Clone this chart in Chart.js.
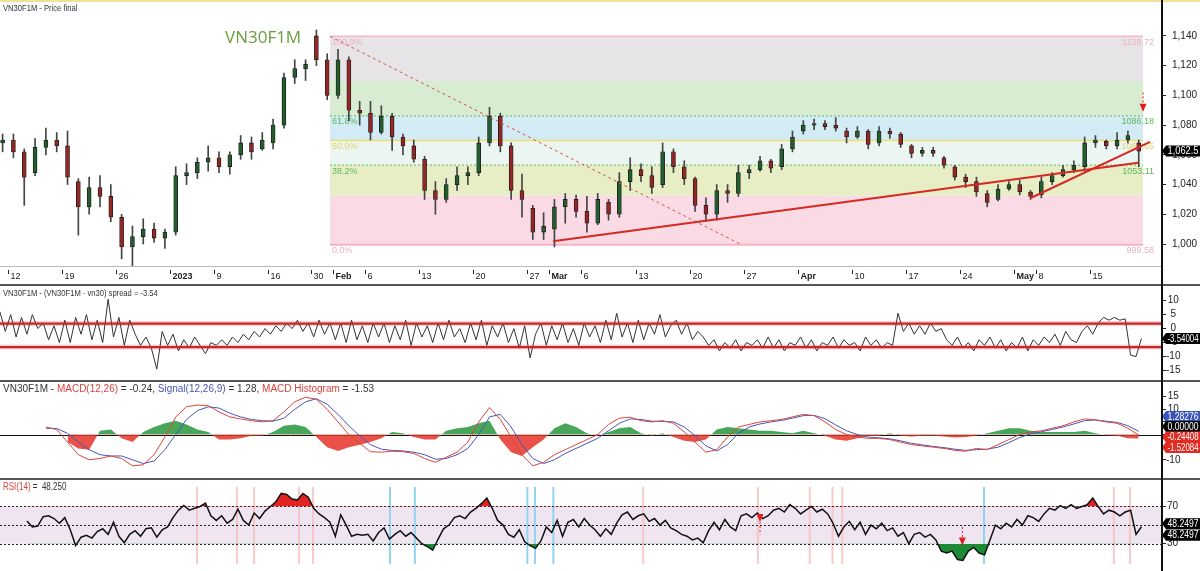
<!DOCTYPE html>
<html>
<head>
<meta charset="utf-8">
<title>VN30F1M</title>
<script src="https://cdn.jsdelivr.net/npm/chart.js@4.4.1/dist/chart.umd.min.js"></script>
<style>
  body { margin:0; background:#fff; }
  #wrap { position:relative; width:1200px; height:571px; overflow:hidden;
          font-family:Arial,"Liberation Sans",sans-serif; }
  canvas { position:absolute; left:0; }
  .sep { position:absolute; left:0; width:1200px; height:2px; background:#555; }
  .ttl { position:absolute; left:3px; font-size:9.5px; color:#333; white-space:nowrap;
         transform-origin:0 0; }
  .narrow { transform:scaleX(0.8); }
  #topLine { position:absolute; left:0; top:0; width:1200px; height:2px; background:#f2df9a; }
  #axisLine { position:absolute; left:1161px; top:0; width:1.5px; height:571px; background:#111; }
  #bigName { position:absolute; left:225px; top:25px; font-family:"Open Sans",Arial,sans-serif;
             font-size:17px; color:#6a9e3c; }
</style>
</head>
<body>
<div id="wrap">
  <canvas id="priceChart" width="1200" height="286" style="top:0"></canvas>
  <canvas id="spreadChart" width="1200" height="94" style="top:286px"></canvas>
  <canvas id="macdChart" width="1200" height="96" style="top:382px"></canvas>
  <canvas id="rsiChart" width="1200" height="91" style="top:480px"></canvas>
  <div id="topLine"></div>
  <div class="sep" style="top:284px"></div>
  <div class="sep" style="top:380px"></div>
  <div class="sep" style="top:478px"></div>
  <div id="axisLine"></div>
  <div class="ttl narrow" style="top:2px">VN30F1M - Price final</div>
  <div id="bigName">VN30F1M</div>
  <div class="ttl narrow" style="top:287px">VN30F1M - (VN30F1M - vn30) spread = -3.54</div>
  <div class="ttl" style="top:383px;font-size:10px">VN30F1M - <span style="color:#d9453c">MACD(12,26)</span> = -0.24, <span style="color:#4a55b5">Signal(12,26,9)</span> = 1.28, <span style="color:#d9453c">MACD Histogram</span> = -1.53</div>
  <div class="ttl narrow" style="top:481px;font-size:10px"><span style="color:#d9453c">RSI(14)</span> =&nbsp; 48.250</div>
</div>
<script>
// ---- data: one candle per trading day, Dec 9 2022 .. May 19 2023 ----
var open = [1068,1070,1062,1048,1065,1070,1066,1042,1025,1038,
  1032,1018,998,1005,1010,1004,1008,1046,1048,1055,
  1058,1052,1060,1068,1064,1068,1080,1112,1118,1140,
  1124,1100,1124,1090,1088,1075,1086,1072,1066,1057,
  1036,1030,1040,1046,1048,1068,1086,1066,1036,1024,
  1008,1010,1025,1030,1022,1014,1028,1020,1042,1050,
  1046,1040,1062,1052,1044,1026,1020,1036,1034,1048,
  1050,1056,1052,1064,1076,1080,1081,1080,1076,1072,
  1076,1068,1076,1074,1066,1061,1063,1058,1052,1045,
  1042,1034,1030,1037,1040,1035,1033,1042,1046,1050,
  1052,1068,1069,1066,1070,1068];
var high = [1074,1074,1064,1071,1078,1075,1076,1044,1045,1046,
  1040,1020,1012,1017,1014,1010,1052,1054,1058,1066,
  1062,1062,1073,1072,1075,1084,1115,1124,1124,1144,
  1128,1131,1126,1096,1096,1093,1088,1074,1070,1059,
  1042,1044,1052,1052,1072,1092,1088,1068,1047,1026,
  1021,1030,1034,1033,1032,1034,1030,1048,1058,1054,
  1052,1068,1064,1056,1045,1031,1040,1040,1053,1053,
  1059,1057,1067,1076,1083,1084,1083,1085,1078,1079,
  1077,1079,1078,1075,1067,1065,1065,1059,1053,1047,
  1045,1036,1040,1042,1043,1036,1045,1048,1053,1056,
  1072,1073,1070,1075,1076,1070];
var low = [1062,1058,1026,1046,1060,1062,1040,1006,1020,1025,
  1015,990,985,1000,1001,997,1006,1040,1044,1049,
  1048,1047,1057,1057,1063,1064,1078,1108,1110,1120,
  1097,1098,1083,1080,1070,1074,1063,1060,1055,1030,
  1020,1028,1036,1040,1046,1066,1062,1030,1018,1003,
  1003,998,1014,1018,1008,1013,1016,1018,1036,1042,
  1034,1038,1048,1040,1022,1015,1016,1028,1032,1044,
  1049,1048,1050,1062,1074,1077,1077,1076,1068,1071,
  1064,1066,1071,1065,1058,1059,1059,1051,1043,1038,
  1032,1025,1029,1036,1033,1030,1031,1040,1045,1048,
  1049,1065,1064,1064,1068,1052];
var close = [1070,1062,1045,1065,1070,1066,1045,1025,1038,1032,
  1018,998,1005,1010,1004,1008,1046,1048,1055,1058,
  1052,1060,1068,1062,1070,1080,1112,1118,1121,1124,
  1100,1124,1090,1088,1075,1086,1072,1066,1057,1036,
  1030,1040,1046,1048,1068,1086,1066,1036,1030,1008,
  1012,1025,1030,1022,1014,1030,1020,1042,1050,1046,
  1038,1062,1052,1044,1026,1020,1036,1034,1048,1050,
  1056,1051,1064,1072,1080,1081,1079,1078,1072,1076,
  1067,1076,1074,1067,1061,1063,1061,1053,1045,1042,
  1035,1028,1037,1040,1035,1032,1042,1046,1050,1053,
  1068,1070,1066,1070,1073,1062.5];

// x-axis tick labels (day index where the label starts)
var tickDays = [1,6,11,16,20,25,29,31,34,39,44,49,51,54,59,64,69,74,79,84,89,94,96,101];
var tickLabels = ['12','19','26','2023','9','16','30','Feb','6','13','20','27','Mar','6','13','20','27','Apr','10','17','24','May','8','15'];

var priceTicks = [1000,1020,1040,1060,1080,1100,1120,1140];
var spreadTicks = [10,5,0,-5,-10,-15];
var macdTicks = [15,10,5,0,-5,-10];
var rsiTicks = [70,30];

// fibonacci retracement
var fibLevels = [999.58,1032.65,1053.11,1069.65,1086.18,1109.72,1139.72];
var fibNames = ['0.0%','23.6%','38.2%','50.0%','61.8%','78.6%','100.0%'];
var fibFrom = 30.26, fibTo = 105.4;

// trend lines [x, price]
var trendA = [[50.87,1001.9],[104.94,1054.6]];
var trendB = [[94.96,1030.8],[106.05,1068.7]];
var fibDiag = [[30.26,1139.72],[68.15,1000]];
var priceArrow = {x:105.4, top:1102, bottom:1089};

// spread, two values per day
var spread = [6,-1,5,-3, 4,-2,5,0, 2,-4,1,-5, 3,-5,4,-2, 5,-4,3,-5,
  10.5, -3,4,-6,3, -2,-6,-3,-7, -14.5,
  -1,-6,-2,-8, -4,-7,-3,-6, -9,-5,-6,-4, -6,-3,-5,-2, -4,-1,-3,0,
  -2,1,-1,2, 0,3,-1,2, -3,3,-2,2, -4,2,-5,3, -4,1,-5,2,
  -3,2,-5,1, -4,3,-6,2, -3,1,-5,2, -4,3,-3,0, -5,2,-4,3,
  -6,1,-3,2, -5,0,-7,1, -10.5,-2,2,-6, 1,-4,2,-5, 0,-6,2,-3,
  1,-5,3,-4, 5.5,-3,2,-5, 3,-4,2,-2, 5,-3,1,3, -2,2,-4,-1,
  -3,-6,-4,-8, -5,-7,-4,-8, -5,-6,-4,-7, -3,-7,-4,-8, -5,-6,-3,-7,
  -4,-8,-5,-6, -3,-7,-4,-6, -5,-8,-3,-6, -4,-7,-5,-6,
  5.5, -1,2,-2,1, -2,2,-1,0, -4,-6,-3,-7, -5,-8,-4,-6, -3,-7,-4,-8,
  -5,-7,-3,-8, -4,-6,-3,-5, -2,-6,-1,-4, -5,-1,1,-2, 2,4,3,4,
  3,3.5, -9.5,-10,-3.54];
var spreadBands = [1.8,-6.6];

// MACD, one value per day
var macd = [null,null,null,null,3,2,-3,-8,-10,-9.5,
  -8.5,-9.5,-12.4,-12,-8,-1,7,11,11.7,11.5,
  9,7,6.2,5.5,5,5.5,9,13,14.8,14,
  10,5,0,-3.5,-6.8,-7,-6.6,-6.8,-7.5,-9.5,
  -11,-9,-7,-3,5,10.7,6,-1,-8,-12.4,
  -11,-8,-6,-4,-2,0,4,6.5,6.9,5.5,
  5,5.5,4.5,1,-3,-7,-6,-1,3,4,
  5,5.5,6,7,8,7.5,5,2,0,-1,
  -1.5,-1.5,-2,-3,-4,-4.5,-5,-5.5,-6.3,-6.6,
  -5.5,-6,-4,-2,0,1,1.5,2.5,3.5,5,
  6.2,5.8,5,4.5,2.5,-0.24];
var signal = [null,null,null,null,2.5,2.4,0.5,-3,-6,-8,
  -8.5,-8.5,-10,-11.5,-10.5,-6,0,6,9.5,11,
  10.5,8.5,7,6,5.5,5.3,6.5,10,13,14.2,
  12,8,3.5,-0.5,-4,-5.8,-6.3,-6.5,-7,-8,
  -9.8,-9.5,-8,-5.5,0,7,8,3,-4,-9.5,
  -11.5,-10,-7.5,-5.5,-3.5,-1.5,1.5,4.5,6.2,6,
  5.3,5.2,5,3,-0.5,-4.5,-6.5,-4,0.5,3,
  4.2,5,5.6,6.5,7.5,7.6,6.3,3.8,1.5,0,
  -1,-1.3,-1.7,-2.5,-3.5,-4.1,-4.7,-5.2,-5.8,-6.3,
  -6,-5.8,-5,-3.2,-1.2,0.3,1.1,2,3,4.2,
  5.5,5.8,5.3,4.8,3.5,1.28];
var hist = [null,null,null,null,null,null,-3,-5.5,-6,1.5,
  2,-1.5,-3,1,3,4.5,5.5,4,2,1,
  -2,-2,-1.5,-0.5,-0.5,1,3.5,4,3,-1,
  -5,-6.5,-5,-4,-3,-1.5,1,0.5,-1,-2,
  -2,1.5,2.5,3,4.5,5.5,-2,-7,-8.5,-5,
  -2,2.5,4.5,3,0.5,-0.5,1,2.5,3,0.5,
  -0.5,0.5,-1,-2.5,-3,-2,2,3,2.5,2,
  1.5,1.5,1,0.5,1.5,0.5,-0.5,-2,-2.5,-1.5,
  -0.5,-0.5,0.5,-0.5,-0.8,-0.5,-0.5,-0.8,-1.2,-1,
  -0.5,0.5,1.5,2.5,2.5,1.5,1,1,1,1,
  1.5,0.5,-0.3,-0.5,-1.5,-1.53];

// RSI(14), two values per day
var rsi = [null,null,null,null,null,54.5,48,49,59,60,
  57,52,58,45,28,37,39,36,43,46,
  40,53,38,31,40,44,38,46,47,37,
  45,48,58,66,71,66,68,70,73.5,60,
  55,60,52,56,67,55,50,63,57,65,
  70,75,84,83,78,77,84,80,68,62,
  58,53,38,61,50,38,40,39,40,33,
  42,47,35,40,44,38,42,36,30,27,
  23,35,46,50,58,60,57,64,68,73,
  79,68,55,50,40,37,45,32,28,25,
  33,48,42,55,38,53,56,48,57,50,
  45,38,46,40,52,61,64,56,60,62,
  54,57,50,55,47,44,40,38,34,36,
  31,44,53,45,56,48,44,60,62,58,
  63,57,60,66,68,64,72,68,62,66,
  70,64,67,62,52,38,48,54,45,53,
  40,50,46,52,44,47,38,42,30,40,
  42,37,40,34,22,20,22,13,12,22,
  26,20,18,34,50,46,52,48,56,50,
  60,58,54,62,68,66,71,68,72,68,
  70,72,79,70,62,66,64,60,64,66,
  40,48.25];
var rsiPinkX = [17.97,21.66,23.24,27.4,28.69,59.2,69.8,74.6,76.7,77.6,102.7,104.2];
var rsiBlueX = [35.8,38.1,48.5,49.2,50.9,90.7];
var rsiMarks = [{x:70.0, top:62, bottom:40, head:'top'}, {x:88.7, top:48, bottom:28, head:'bottom'}];

// ---- drawing ----
var FONT = 'Arial,"Liberation Sans",sans-serif';
Chart.defaults.font.family = FONT;
Chart.defaults.font.size = 10;
Chart.defaults.color = '#222';

var X_MIN = -0.24, X_MAX = 107.15;

function pts(arr) { return arr.map(function (p) { return {x: p[0], y: p[1]}; }); }
function daily(arr) { return arr.map(function (v, k) { return {x: k, y: v}; }); }
function halfDay(arr) { return arr.map(function (v, j) { return {x: j / 2 - 0.25, y: v}; }); }
function flat(y) { return [{x: X_MIN, y: y}, {x: X_MAX, y: y}]; }

function opts(yMin, yMax, ticks, pad, align) {
  return {
    responsive: false, animation: false, devicePixelRatio: 1, events: [],
    layout: {padding: 0},
    plugins: {legend: {display: false}, tooltip: {enabled: false}},
    scales: {
      x: {type: 'linear', min: X_MIN, max: X_MAX, display: false, offset: false},
      y: {
        position: 'right', min: yMin, max: yMax,
        afterFit: function (s) { s.width = 38; },
        afterBuildTicks: function (s) { s.ticks = ticks.map(function (v) { return {value: v}; }); },
        grid: {drawOnChartArea: false, drawTicks: true, tickLength: 4, color: '#222'},
        border: {display: true, color: '#111', width: 1.5},
        ticks: {color: '#222', font: {size: 10}, padding: pad, crossAlign: align,
                callback: function (v) { return v.toLocaleString('en-US'); }}
      }
    }
  };
}

// condensed text: squeeze horizontally when wider than the room
function squeezeText(ctx, text, cx, cy, room) {
  var w = ctx.measureText(text).width;
  var k = w > room ? room / w : 1;
  ctx.save();
  ctx.translate(cx, cy);
  ctx.scale(k, 1);
  ctx.fillText(text, 0, 0);
  ctx.restore();
}

function drawTag(ctx, y, text, bg) {
  var x0 = 1162, w = 38, h = 11;
  ctx.save();
  ctx.fillStyle = bg;
  ctx.beginPath();
  ctx.moveTo(x0, y);
  ctx.lineTo(x0 + 4, y - h / 2);
  ctx.lineTo(x0 + w, y - h / 2);
  ctx.lineTo(x0 + w, y + h / 2);
  ctx.lineTo(x0 + 4, y + h / 2);
  ctx.closePath();
  ctx.fill();
  ctx.fillStyle = '#fff';
  ctx.font = '10px ' + FONT;
  ctx.textAlign = 'center';
  ctx.textBaseline = 'middle';
  squeezeText(ctx, text, x0 + 4 + (w - 4) / 2, y + 0.5, w - 7);
  ctx.restore();
}

function drawArrow(ctx, px, yTop, yBot, head) {
  ctx.save();
  ctx.strokeStyle = '#e02020';
  ctx.fillStyle = '#e02020';
  ctx.lineWidth = 1;
  ctx.setLineDash([2, 2]);
  ctx.beginPath(); ctx.moveTo(px, yTop); ctx.lineTo(px, yBot); ctx.stroke();
  ctx.setLineDash([]);
  var hy = head === 'top' ? yTop + 8 : yBot;
  ctx.beginPath();
  ctx.moveTo(px - 3.5, hy - 8); ctx.lineTo(px + 3.5, hy - 8); ctx.lineTo(px, hy);
  ctx.closePath(); ctx.fill();
  ctx.restore();
}

// PRICE
var bandColors = ['#fadbe5','#e7eec6','#ebf5f1','#d3ebf4','#d7ecd0','#e6e4e7'];
var fibStyle = {
  0: {color: '#f4b3c6', width: 2, dash: [], text: '#e8b4c4'},
  2: {color: '#5cb85c', width: 1, dash: [2, 2], text: '#5cb85c'},
  3: {color: '#eee070', width: 1.5, dash: [], text: '#e2d465'},
  4: {color: '#5cb85c', width: 1, dash: [2, 2], text: '#5cb85c'},
  6: {color: '#f4b8c8', width: 1.5, dash: [], text: '#f0b0c4'}
};

var fibPlugin = {
  id: 'fib',
  beforeDatasetsDraw: function (chart) {
    var ctx = chart.ctx, sx = chart.scales.x, sy = chart.scales.y;
    var x1 = sx.getPixelForValue(fibFrom), x2 = sx.getPixelForValue(fibTo);
    ctx.save();
    for (var i = 0; i < fibLevels.length - 1; i++) {
      var ya = sy.getPixelForValue(fibLevels[i]), yb = sy.getPixelForValue(fibLevels[i + 1]);
      ctx.fillStyle = bandColors[i];
      ctx.fillRect(x1, yb, x2 - x1, ya - yb);
    }
    ctx.font = '9px ' + FONT;
    ctx.textBaseline = 'middle';
    Object.keys(fibStyle).forEach(function (k) {
      var st = fibStyle[k], y = sy.getPixelForValue(fibLevels[k]);
      ctx.strokeStyle = st.color; ctx.lineWidth = st.width; ctx.setLineDash(st.dash);
      ctx.beginPath(); ctx.moveTo(x1, y); ctx.lineTo(x2, y); ctx.stroke();
      ctx.fillStyle = st.text;
      ctx.textAlign = 'left';
      ctx.fillText(fibNames[k], x1 + 2, y + 6);
      ctx.textAlign = 'right';
      ctx.fillText(fibLevels[k].toFixed(2), x2 + 11, y + 6);
    });
    ctx.restore();
  },
  afterDraw: function (chart) {
    var ctx = chart.ctx, sx = chart.scales.x, sy = chart.scales.y;
    ctx.save();
    ctx.strokeStyle = '#bbb'; ctx.lineWidth = 1;
    ctx.beginPath(); ctx.moveTo(0, 266.5); ctx.lineTo(1162, 266.5); ctx.stroke();
    ctx.strokeStyle = '#222'; ctx.fillStyle = '#222';
    ctx.textBaseline = 'middle'; ctx.textAlign = 'left';
    tickDays.forEach(function (d, i) {
      var px = Math.round(sx.getPixelForValue(d - 0.5)) + 0.5;
      ctx.beginPath(); ctx.moveTo(px, 270); ctx.lineTo(px, 274); ctx.stroke();
      var lab = tickLabels[i];
      var bold = isNaN(+lab) || lab.length === 4;
      ctx.font = (bold ? 'bold ' : '') + '9px ' + FONT;
      ctx.fillText(lab, px + 2, 277);
    });
    ctx.restore();
    drawArrow(ctx, sx.getPixelForValue(priceArrow.x), sy.getPixelForValue(priceArrow.top),
              sy.getPixelForValue(priceArrow.bottom), 'bottom');
    drawTag(ctx, sy.getPixelForValue(close[close.length - 1]), '1,062.5', '#000');
  }
};

var bodyColors = open.map(function (o, k) { return close[k] >= o ? '#225e2b' : '#952626'; });
var pOpts = opts(985.2, 1156.1, priceTicks, 6, 'near');
pOpts.layout.padding = {bottom: 20};

new Chart('priceChart', {
  type: 'bar',
  data: {
    datasets: [
      {type: 'line', data: pts(trendA), borderColor: '#d42a22', borderWidth: 2, pointRadius: 0, order: 1},
      {type: 'line', data: pts(trendB), borderColor: '#d42a22', borderWidth: 2, pointRadius: 0, order: 1},
      {type: 'line', data: pts(fibDiag), borderColor: '#d9534f', borderWidth: 1, borderDash: [3, 3], pointRadius: 0, order: 2},
      {data: open.map(function (o, k) { return {x: k, y: [o, close[k]]}; }),
       backgroundColor: bodyColors, borderColor: '#1b1b1b', borderWidth: 0.8, borderSkipped: false,
       barThickness: 4, grouped: false, minBarLength: 1, order: 3},
      {data: high.map(function (h, k) { return {x: k, y: [low[k], h]}; }),
       backgroundColor: '#444', barThickness: 1, grouped: false, order: 4}
    ]
  },
  options: pOpts,
  plugins: [fibPlugin]
});

// SPREAD
var spreadPlugin = {
  id: 'spreadTag',
  afterDraw: function (chart) {
    drawTag(chart.ctx, chart.scales.y.getPixelForValue(spread[spread.length - 1]), '-3.54004', '#000');
  }
};
new Chart('spreadChart', {
  type: 'line',
  data: {
    datasets: [
      {data: halfDay(spread), borderColor: '#333', borderWidth: 1, pointRadius: 0, order: 2},
      {data: flat(spreadBands[0]), borderColor: '#c8282a', borderWidth: 2.2, pointRadius: 0, order: 1},
      {data: flat(spreadBands[1]), borderColor: '#c8282a', borderWidth: 2.2, pointRadius: 0, order: 1},
      {data: flat(spreadBands[0]), borderColor: 'rgba(230,120,120,0.35)', borderWidth: 5, pointRadius: 0, order: 3},
      {data: flat(spreadBands[1]), borderColor: 'rgba(230,120,120,0.35)', borderWidth: 5, pointRadius: 0, order: 3}
    ]
  },
  options: opts(-16.25, 13.1, spreadTicks, 0, 'center'),
  plugins: [spreadPlugin]
});

// MACD
var macdPlugin = {
  id: 'macdZero',
  beforeDatasetsDraw: function (chart) {
    var ctx = chart.ctx, y = Math.round(chart.scales.y.getPixelForValue(0)) + 0.5;
    ctx.save(); ctx.strokeStyle = '#111'; ctx.lineWidth = 1;
    ctx.beginPath(); ctx.moveTo(0, y); ctx.lineTo(1162, y); ctx.stroke(); ctx.restore();
  },
  afterDraw: function (chart) {
    var y0 = chart.scales.y.getPixelForValue(0);
    drawTag(chart.ctx, y0 - 18, '1.28276', '#3a55b8');
    drawTag(chart.ctx, y0 - 8, '0.00000', '#000');
    drawTag(chart.ctx, y0 + 2.5, '-0.24408', '#e02a22');
    drawTag(chart.ctx, y0 + 13, '-1.52084', '#e02a22');
  }
};
new Chart('macdChart', {
  type: 'line',
  data: {
    datasets: [
      {data: daily(hist), borderWidth: 0, pointRadius: 0,
       fill: {target: 'origin', above: 'rgba(40,150,60,0.85)', below: 'rgba(230,50,40,0.85)'}, order: 3},
      {data: daily(signal), borderColor: '#4a55b5', borderWidth: 1, pointRadius: 0, order: 2},
      {data: daily(macd), borderColor: '#d9453c', borderWidth: 1, pointRadius: 0, order: 1}
    ]
  },
  options: opts(-14.86, 18.47, macdTicks, 0, 'center'),
  plugins: [macdPlugin]
});

// RSI
var rsiPlugin = {
  id: 'rsiBand',
  beforeDatasetsDraw: function (chart) {
    var ctx = chart.ctx, sx = chart.scales.x, sy = chart.scales.y, a = chart.chartArea;
    var y70 = sy.getPixelForValue(70), y30 = sy.getPixelForValue(30), y50 = sy.getPixelForValue(50);
    ctx.save();
    ctx.fillStyle = '#efe5f1';
    ctx.fillRect(0, y70, 1162, y30 - y70);
    ctx.lineWidth = 2;
    ctx.strokeStyle = 'rgba(246,190,190,0.8)';
    rsiPinkX.forEach(function (v) {
      var px = sx.getPixelForValue(v);
      ctx.beginPath(); ctx.moveTo(px, a.top); ctx.lineTo(px, a.bottom); ctx.stroke();
    });
    ctx.strokeStyle = '#92d3ef';
    rsiBlueX.forEach(function (v) {
      var px = sx.getPixelForValue(v);
      ctx.beginPath(); ctx.moveTo(px, a.top); ctx.lineTo(px, a.bottom); ctx.stroke();
    });
    ctx.strokeStyle = '#222'; ctx.lineWidth = 1; ctx.setLineDash([2, 2]);
    [y70, y50, y30].forEach(function (y) {
      y = Math.round(y) + 0.5;
      ctx.beginPath(); ctx.moveTo(0, y); ctx.lineTo(1162, y); ctx.stroke();
    });
    ctx.restore();
  },
  afterDraw: function (chart) {
    var ctx = chart.ctx, sx = chart.scales.x, sy = chart.scales.y;
    rsiMarks.forEach(function (m) {
      drawArrow(ctx, sx.getPixelForValue(m.x), sy.getPixelForValue(m.top), sy.getPixelForValue(m.bottom), m.head);
    });
    var y = sy.getPixelForValue(rsi[rsi.length - 1]);
    drawTag(ctx, y - 3, '48.2497', '#000');
    drawTag(ctx, y + 8.5, '48.2497', '#000');
  }
};
new Chart('rsiChart', {
  type: 'line',
  data: {
    datasets: [
      {data: halfDay(rsi), borderWidth: 0, pointRadius: 0,
       fill: {target: {value: 30}, above: 'rgba(0,0,0,0)', below: '#1f8a36'}, order: 2},
      {data: halfDay(rsi), borderColor: '#111', borderWidth: 1.5, pointRadius: 0,
       fill: {target: {value: 70}, above: '#e32222', below: 'rgba(0,0,0,0)'}, order: 1}
    ]
  },
  options: opts(8.18, 90.9, rsiTicks, 1, 'center'),
  plugins: [rsiPlugin]
});
</script>
</body>
</html>
